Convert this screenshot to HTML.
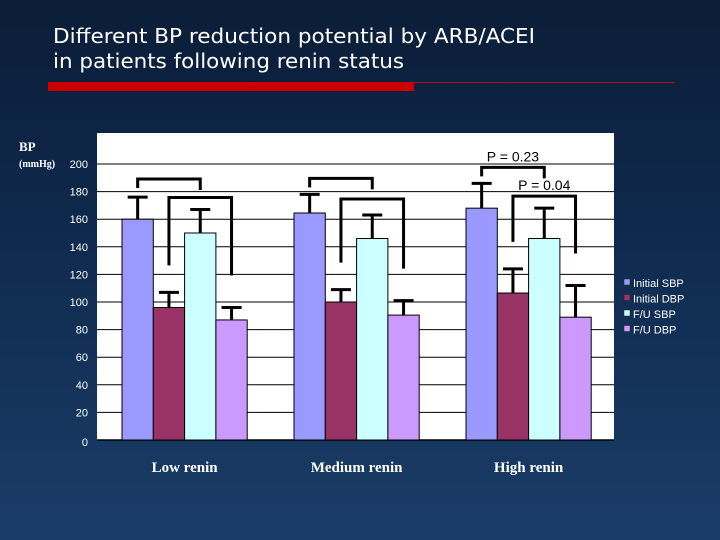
<!DOCTYPE html>
<html><head><meta charset="utf-8"><style>
html,body{margin:0;padding:0;}
body{width:720px;height:540px;overflow:hidden;background:linear-gradient(180deg,#0b1d38 0%,#0f2a4e 45%,#1a3d68 100%);}
svg{display:block;}
</style></head><body>
<svg id="chart" width="720" height="540" xmlns="http://www.w3.org/2000/svg">
<text x="53" y="43" fill="#fff" font-family="DejaVu Sans Condensed, DejaVu Sans, sans-serif" font-size="20" textLength="482" lengthAdjust="spacingAndGlyphs">Different BP reduction potential by ARB/ACEI</text>
<text x="53" y="68" fill="#fff" font-family="DejaVu Sans Condensed, DejaVu Sans, sans-serif" font-size="20" textLength="351" lengthAdjust="spacingAndGlyphs">in patients following renin status</text>
<rect x="48" y="82" width="366" height="9" fill="#cc0000"/>
<line x1="414" y1="82.5" x2="675" y2="82.5" stroke="#b01010" stroke-width="1"/>
<rect x="97" y="133" width="517" height="307" fill="#fff"/>
<text x="19" y="151" fill="#fff" font-family="Liberation Serif, serif" font-weight="bold" font-size="13">BP</text>
<text x="19" y="167" fill="#fff" font-family="Liberation Serif, serif" font-weight="bold" font-size="10">(mmHg)</text>
<g id="grid"></g><g id="bars"></g><g id="ann"></g><g id="legend"></g>
</svg>
<script>
const categories = ["Low renin","Medium renin","High renin"];
const seriesNames = ["Initial SBP","Initial DBP","F/U SBP","F/U DBP"];
const initialSBP = [160, 164.5, 168];
const initialDBP = [96, 100, 106.5];
const fuSBP = [150, 146, 146];
const fuDBP = [87, 90.5, 89];
const initialSBPErr = [176, 178, 186];
const initialDBPErr = [107, 109, 124];
const fuSBPErr = [167, 163, 168];
const fuDBPErr = [96, 101, 112];
const yTicks = [0,20,40,60,80,100,120,140,160,180,200];
const pLabels = ["P = 0.23","P = 0.04"];

const NS="http://www.w3.org/2000/svg";
const colors=["#9999ff","#993366","#ccffff","#cc99ff"];
const values=[initialSBP,initialDBP,fuSBP,fuDBP];
const errs=[initialSBPErr,initialDBPErr,fuSBPErr,fuDBPErr];
const y0=440, plotL=97, plotR=614;
function yS(v){return y0-v*1.38;}
function groupX(i){return 122+i*172;}
const bw=31.3;
function barX(i,s){return groupX(i)+s*bw;}
function mk(tag,attrs,parent){const e=document.createElementNS(NS,tag);for(const k in attrs)e.setAttribute(k,attrs[k]);parent.appendChild(e);return e;}
const grid=document.getElementById('grid'),bars=document.getElementById('bars'),ann=document.getElementById('ann'),leg=document.getElementById('legend');
yTicks.forEach(t=>{
  if(t>0){const l=mk('line',{x1:plotL,x2:plotR,y1:yS(t),y2:yS(t),stroke:'#000','stroke-width':1},grid);
  
  }
  const tx=mk('text',{x:88,y:yS(t)+4+(t===0?2:0),fill:'#fff','font-family':'Liberation Sans, sans-serif','font-size':11,'text-anchor':'end'},grid);
  tx.textContent=t;
  
  
});
const ax=mk('line',{x1:plotL,x2:plotR,y1:y0,y2:y0,stroke:'#000','stroke-width':1.5},grid);


categories.forEach((c,i)=>{
  for(let s=0;s<4;s++){
    const v=values[s][i],x=barX(i,s);
    const r=mk('rect',{x:x,y:yS(v),width:bw,height:y0-yS(v),fill:colors[s],stroke:'#000','stroke-width':1},bars);
    
    
    const cx=x+bw/2,et=yS(errs[s][i]);
    const e=mk('path',{d:`M${cx},${yS(v)}V${et}M${cx-10},${et}H${cx+10}`,stroke:'#000','stroke-width':3,fill:'none'},bars);
    
    
  }
  const lb=mk('text',{x:groupX(i)+2*bw,y:472,fill:'#fff','font-family':'Liberation Serif, serif','font-weight':'bold','font-size':15,'text-anchor':'middle'},bars);
  lb.textContent=c;
  
  
  // bracket 1: initial SBP vs F/U SBP (short legs)
  const xa=barX(i,0)+bw/2, xb=barX(i,2)+bw/2;
  const t1=Math.min(yS(errs[0][i])-16, 179);
  const b1=mk('path',{d:`M${xa},${t1+9}V${t1}H${xb}V${t1+11}`,stroke:'#000','stroke-width':3,fill:'none'},ann);
  
  
  // bracket 2: initial DBP vs F/U DBP
  const xc=barX(i,1)+bw/2, xd=barX(i,3)+bw/2;
  const t2=Math.min(yS(errs[2][i])-12, 199);
  const b2=mk('path',{d:`M${xc},${yS(errs[1][i])-27}V${t2}H${xd}V${yS(errs[3][i])-32}`,stroke:'#000','stroke-width':3,fill:'none'},ann);
  
  
  if(i===2){
    const p1=mk('text',{x:(xa+xb)/2,y:t1-6,fill:'#000','font-family':'Liberation Sans, sans-serif','font-size':14,'text-anchor':'middle'},ann);
    p1.textContent=pLabels[0];
    
    
    const p2=mk('text',{x:(xc+xd)/2,y:t2-6,fill:'#000','font-family':'Liberation Sans, sans-serif','font-size':14,'text-anchor':'middle'},ann);
    p2.textContent=pLabels[1];
    
    
  }
});
seriesNames.forEach((n,s)=>{
  const y=279+s*15.5;
  const sq=mk('rect',{x:624,y:y,width:6,height:6,fill:colors[s],stroke:'#222','stroke-width':0.5},leg);
  
  
  const t=mk('text',{x:633,y:y+8,fill:'#fff','font-family':'Liberation Sans, sans-serif','font-size':11},leg);
  t.textContent=n;
  
  
});
</script>
</body></html>
